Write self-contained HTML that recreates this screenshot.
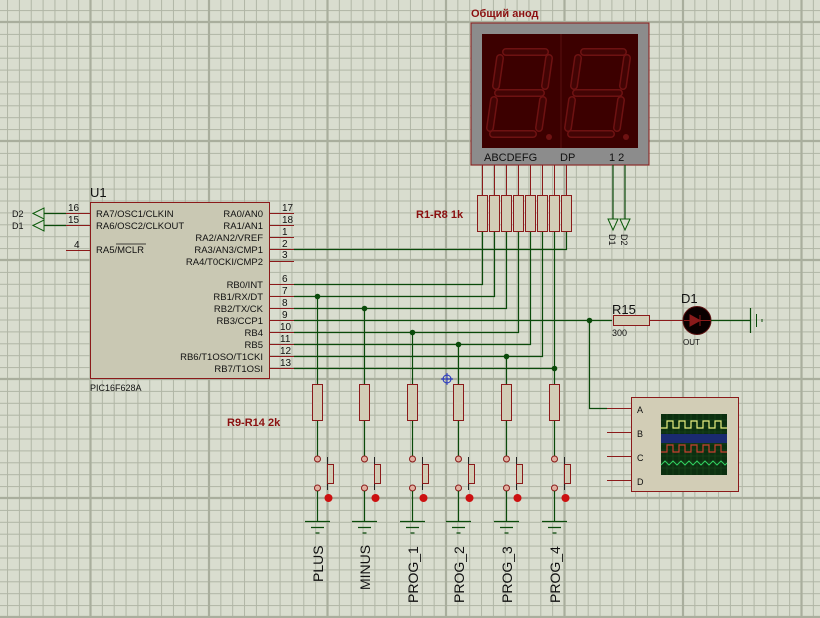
<!DOCTYPE html>
<html><head><meta charset="utf-8"><style>
html,body{margin:0;padding:0;background:#d9ddcf;}
svg{display:block}
text{font-family:"Liberation Sans","DejaVu Sans",sans-serif;}
</style></head><body>
<svg width="820" height="618" viewBox="0 0 820 618" xmlns="http://www.w3.org/2000/svg">
<defs>
<pattern id="g" x="90" y="22" width="11.85" height="11.9" patternUnits="userSpaceOnUse">
<path d="M0.5 0V11.9M0 0.5H11.85" stroke="#b0b5a5" stroke-width="1" fill="none"/>
</pattern>
</defs>
<rect width="820" height="618" fill="#d9ddcf"/>
<rect width="820" height="618" fill="url(#g)"/>
<g stroke="#a9ae9d" stroke-width="2.2">
<line x1="90.5" y1="0" x2="90.5" y2="618"/><line x1="209" y1="0" x2="209" y2="618"/><line x1="327.5" y1="0" x2="327.5" y2="618"/><line x1="446" y1="0" x2="446" y2="618"/><line x1="564.5" y1="0" x2="564.5" y2="618"/><line x1="683" y1="0" x2="683" y2="618"/><line x1="801.5" y1="0" x2="801.5" y2="618"/>
<line x1="0" y1="22" x2="820" y2="22"/><line x1="0" y1="141" x2="820" y2="141"/><line x1="0" y1="260" x2="820" y2="260"/><line x1="0" y1="379" x2="820" y2="379"/><line x1="0" y1="498" x2="820" y2="498"/><line x1="0" y1="617" x2="820" y2="617"/>
</g>

<!-- Display -->
<text x="471" y="17" font-size="11" font-weight="bold" fill="#8b1010">Общий анод</text>
<rect x="471" y="23" width="178" height="142" fill="#8c8c8c" stroke="#8b1a1a" stroke-width="1"/>
<rect x="482" y="34" width="156" height="114" fill="#3c0000"/>
<line x1="561" y1="34" x2="561" y2="148" stroke="#5a1010" stroke-width="1"/>
<g fill="none" stroke-linecap="round">
<g stroke="#6e1212" stroke-width="8">
<path d="M506 52H545M500 58L496 86M549 58L545 86M498 93H541M494 100L490 128M543 100L539 128M493 134H533"/>
<path d="M584 52H623M578 58L574 86M627 58L623 86M576 93H619M572 100L568 128M621 100L617 128M571 134H611"/>
</g>
<g stroke="#420404" stroke-width="5">
<path d="M506 52H545M500 58L496 86M549 58L545 86M498 93H541M494 100L490 128M543 100L539 128M493 134H533"/>
<path d="M584 52H623M578 58L574 86M627 58L623 86M576 93H619M572 100L568 128M621 100L617 128M571 134H611"/>
</g>
</g>
<circle cx="549" cy="137" r="3" fill="#6e1212"/><circle cx="626" cy="137" r="3" fill="#6e1212"/>
<text x="484" y="161" font-size="11" fill="#111">ABCDEFG</text>
<text x="560" y="161" font-size="11" fill="#111">DP</text>
<text x="609" y="161" font-size="11" fill="#111">1 2</text>

<g stroke="#8b1a1a" stroke-width="1">
<line x1="482.5" y1="165" x2="482.5" y2="195"/><line x1="494.5" y1="165" x2="494.5" y2="195"/><line x1="506.5" y1="165" x2="506.5" y2="195"/><line x1="518.5" y1="165" x2="518.5" y2="195"/><line x1="530.5" y1="165" x2="530.5" y2="195"/><line x1="542.5" y1="165" x2="542.5" y2="195"/><line x1="554.5" y1="165" x2="554.5" y2="195"/><line x1="566.5" y1="165" x2="566.5" y2="195"/>
</g>
<g stroke="#0a4a0a" stroke-width="1.2">
<line x1="613" y1="165" x2="613" y2="219"/><line x1="625" y1="165" x2="625" y2="219"/>
</g>
<g fill="#d9ddcf" stroke="#0a5a0a" stroke-width="1">
<path d="M608 219H618L613 230Z"/><path d="M620 219H630L625 230Z"/>
</g>
<text transform="translate(609,234) rotate(90)" font-size="9" fill="#111">D1</text>
<text transform="translate(621,234) rotate(90)" font-size="9" fill="#111">D2</text>

<text x="416" y="218" font-size="11" font-weight="bold" fill="#8b1010">R1-R8 1k</text>
<g fill="#d2cdb6" stroke="#8b1a1a" stroke-width="1">
<rect x="477.5" y="195.5" width="10" height="36"/><rect x="489.5" y="195.5" width="10" height="36"/><rect x="501.5" y="195.5" width="10" height="36"/><rect x="513.5" y="195.5" width="10" height="36"/><rect x="525.5" y="195.5" width="10" height="36"/><rect x="537.5" y="195.5" width="10" height="36"/><rect x="549.5" y="195.5" width="10" height="36"/><rect x="561.5" y="195.5" width="10" height="36"/>
</g>

<!-- Chip -->
<text x="90" y="197" font-size="13" fill="#111">U1</text>
<rect x="90.5" y="202.5" width="179" height="176" fill="#c9c8b3" stroke="#8b1a1a" stroke-width="1"/>
<text x="90" y="391" font-size="9" fill="#111">PIC16F628A</text>
<g font-size="9.5" fill="#111">
<text x="96" y="217">RA7/OSC1/CLKIN</text>
<text x="96" y="229">RA6/OSC2/CLKOUT</text>
<text x="96" y="253">RA5/MCLR</text>
</g>
<line x1="116" y1="244" x2="146" y2="244" stroke="#111" stroke-width="0.8"/>
<g font-size="9.5" fill="#111" text-anchor="end">
<text x="263" y="217">RA0/AN0</text><text x="263" y="229">RA1/AN1</text><text x="263" y="241">RA2/AN2/VREF</text><text x="263" y="253">RA3/AN3/CMP1</text><text x="263" y="265">RA4/T0CKI/CMP2</text>
<text x="263" y="288">RB0/INT</text><text x="263" y="300">RB1/RX/DT</text><text x="263" y="312">RB2/TX/CK</text><text x="263" y="324">RB3/CCP1</text><text x="263" y="336">RB4</text><text x="263" y="348">RB5</text><text x="263" y="360">RB6/T1OSO/T1CKI</text><text x="263" y="372">RB7/T1OSI</text>
</g>
<g font-size="10" fill="#111">
<text x="282" y="211">17</text><text x="282" y="223">18</text><text x="282" y="235">1</text><text x="282" y="247">2</text><text x="282" y="258">3</text>
<text x="282" y="282">6</text><text x="282" y="294">7</text><text x="282" y="306">8</text><text x="282" y="318">9</text><text x="280" y="330">10</text><text x="280" y="342">11</text><text x="280" y="354">12</text><text x="280" y="366">13</text>
<text x="68" y="211">16</text><text x="68" y="223">15</text><text x="74" y="248">4</text>
</g>
<g stroke="#8b1a1a" stroke-width="1">
<line x1="270" y1="213.5" x2="294" y2="213.5"/><line x1="270" y1="225.5" x2="294" y2="225.5"/><line x1="270" y1="237.5" x2="294" y2="237.5"/><line x1="270" y1="249.5" x2="294" y2="249.5"/><line x1="270" y1="261.5" x2="294" y2="261.5"/>
<line x1="270" y1="284.5" x2="294" y2="284.5"/><line x1="270" y1="296.5" x2="294" y2="296.5"/><line x1="270" y1="308.5" x2="294" y2="308.5"/><line x1="270" y1="320.5" x2="294" y2="320.5"/><line x1="270" y1="332.5" x2="294" y2="332.5"/><line x1="270" y1="344.5" x2="294" y2="344.5"/><line x1="270" y1="356.5" x2="294" y2="356.5"/><line x1="270" y1="368.5" x2="294" y2="368.5"/>
<line x1="66" y1="213.5" x2="90" y2="213.5"/><line x1="66" y1="225.5" x2="90" y2="225.5"/><line x1="66" y1="250.5" x2="90" y2="250.5"/>
</g>
<g stroke="#0a4a0a" stroke-width="1.2"><line x1="43" y1="213.5" x2="66" y2="213.5"/><line x1="43" y1="225.5" x2="66" y2="225.5"/></g>
<g fill="#d9ddcf" stroke="#0a5a0a" stroke-width="1"><path d="M33 213.5L44 208V219Z"/><path d="M33 225.5L44 220V231Z"/></g>
<text x="12" y="217" font-size="9" fill="#111">D2</text><text x="12" y="229" font-size="9" fill="#111">D1</text>

<g stroke="#0a4a0a" stroke-width="1.2" fill="none">
<path d="M294 249.5H566.5V232"/>
<path d="M294 284.5H482.5V232"/>
<path d="M294 296.5H494.5V232"/>
<path d="M294 308.5H506.5V232"/>
<path d="M294 332.5H518.5V232"/>
<path d="M294 344.5H530.5V232"/>
<path d="M294 356.5H542.5V232"/>
<path d="M294 368.5H554.5V232"/>
<path d="M294 320.5H612"/>
<path d="M589.5 320.5V408.5H607"/>
<path d="M317.5 296.5V384M364.5 308.5V384M412.5 332.5V384M458.5 344.5V384M506.5 356.5V384M554.5 368.5V384"/>
</g>
<g fill="#0a4a0a">
<circle cx="317.5" cy="296.5" r="2.8"/><circle cx="364.5" cy="308.5" r="2.8"/><circle cx="412.5" cy="332.5" r="2.8"/><circle cx="458.5" cy="344.5" r="2.8"/><circle cx="506.5" cy="356.5" r="2.8"/><circle cx="554.5" cy="368.5" r="2.8"/><circle cx="589.5" cy="320.5" r="2.8"/>
</g>
<g stroke="#2030c0" stroke-width="1" fill="none"><circle cx="447" cy="379" r="4"/><path d="M441 379H453M447 373V385"/></g>

<text x="612" y="314" font-size="13" fill="#111">R15</text>
<text x="612" y="336" font-size="9" fill="#111">300</text>
<rect x="613.5" y="315.5" width="36" height="10" fill="#d2cdb6" stroke="#8b1a1a"/>
<line x1="649" y1="320.5" x2="683" y2="320.5" stroke="#8b1a1a"/>
<text x="681" y="303" font-size="13" fill="#111">D1</text>
<circle cx="697" cy="320.5" r="14" fill="#0a0000" stroke="#5a1010"/>
<path d="M690 315V326L700 320.5ZM700 315V326" stroke="#8b1a1a" fill="#8b1a1a"/>
<line x1="684" y1="320.5" x2="711" y2="320.5" stroke="#8b1a1a"/>
<text x="683" y="345" font-size="8" fill="#111">OUT</text>
<line x1="711" y1="320.5" x2="750" y2="320.5" stroke="#0a4a0a" stroke-width="1.2"/>
<line x1="750.5" y1="308" x2="750.5" y2="333" stroke="#0a4a0a" stroke-width="1.2"/>
<line x1="756.5" y1="314" x2="756.5" y2="327" stroke="#0a4a0a" stroke-width="1"/>
<line x1="762" y1="319" x2="762" y2="322" stroke="#0a4a0a" stroke-width="1"/>

<g stroke="#8b1a1a" stroke-width="1">
<line x1="607" y1="408.5" x2="631" y2="408.5"/><line x1="607" y1="432.5" x2="631" y2="432.5"/><line x1="607" y1="456.5" x2="631" y2="456.5"/><line x1="607" y1="480.5" x2="631" y2="480.5"/>
</g>
<rect x="631.5" y="397.5" width="107" height="94" fill="#d2cdb6" stroke="#8b1a1a"/>
<g font-size="9" fill="#111"><text x="637" y="413">A</text><text x="637" y="437">B</text><text x="637" y="461">C</text><text x="637" y="485">D</text></g>
<rect x="661" y="414" width="66" height="61" fill="#0c3010"/>
<g stroke="#1e4a1e" stroke-width="0.6">
<path d="M661 420H727M661 426H727M661 432H727M661 438H727M661 444H727M661 450H727M661 456H727M661 462H727M661 468H727"/>
<path d="M667 414V475M673 414V475M679 414V475M685 414V475M691 414V475M697 414V475M703 414V475M709 414V475M715 414V475M721 414V475"/>
</g>
<path d="M661 428H667V421H673V428H679V421H685V428H691V421H697V428H703V421H709V428H715V421H721V428H727" stroke="#e8f080" fill="none" stroke-width="1.2"/>
<rect x="661" y="434" width="66" height="9" fill="#1a2a70"/>
<path d="M661 452H667V445H673V452H679V445H685V452H691V445H697V452H703V445H709V452H715V445H721V452H727" stroke="#c84030" fill="none" stroke-width="1.2"/>
<path d="M661 465L665 461L669 465L673 461L677 465L681 461L685 465L689 461L693 465L697 461L701 465L705 461L709 465L713 461L717 465L721 461L725 465L727 463" stroke="#30d060" fill="none" stroke-width="1"/>

<text x="227" y="426" font-size="11" font-weight="bold" fill="#8b1010">R9-R14 2k</text>
<g id="sw">
<rect x="312.5" y="384.5" width="10" height="36" fill="#d2cdb6" stroke="#8b1a1a"/>
<line x1="317.5" y1="421" x2="317.5" y2="456" stroke="#0a4a0a" stroke-width="1.2"/>
<circle cx="317.5" cy="459" r="3" fill="#e0b0a0" stroke="#8b1a1a"/>
<circle cx="317.5" cy="488" r="3" fill="#e0b0a0" stroke="#8b1a1a"/>
<line x1="327.5" y1="457" x2="327.5" y2="490" stroke="#222" stroke-width="1"/>
<rect x="327.5" y="464.5" width="6" height="19" fill="#d2cdb6" stroke="#8b1a1a"/>
<circle cx="328.5" cy="498" r="4" fill="#cc1010"/>
<line x1="317.5" y1="491" x2="317.5" y2="521" stroke="#0a4a0a" stroke-width="1.2"/>
<path d="M305 521.5H330M311 527.5H324M315.5 533H319.5" stroke="#0a4a0a" stroke-width="1.2"/>
</g>
<use href="#sw" x="47"/><use href="#sw" x="95"/><use href="#sw" x="141"/><use href="#sw" x="189"/><use href="#sw" x="237"/>
<g font-size="14" fill="#111">
<text transform="translate(323,582) rotate(-90)">PLUS</text>
<text transform="translate(370,590) rotate(-90)">MINUS</text>
<text transform="translate(418,603) rotate(-90)">PROG_1</text>
<text transform="translate(464,603) rotate(-90)">PROG_2</text>
<text transform="translate(512,603) rotate(-90)">PROG_3</text>
<text transform="translate(560,603) rotate(-90)">PROG_4</text>
</g>
</svg>
</body></html>
